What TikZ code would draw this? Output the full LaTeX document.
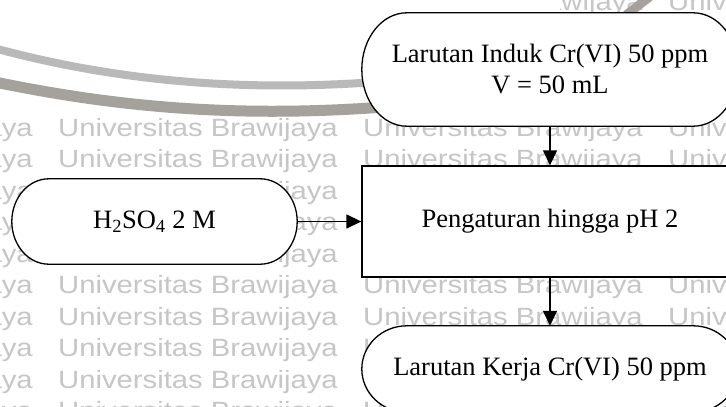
\documentclass[tikz,border=0pt]{standalone}
\usepackage{fontspec}
\setmainfont{Liberation Serif}
\newfontfamily\wmfont{Liberation Sans}
\usetikzlibrary{arrows.meta,calc}

\definecolor{wmgray}{RGB}{198,198,198}
\definecolor{swooshlight}{RGB}{185,185,185}
\definecolor{swooshdark}{RGB}{165,162,158}

\pgfdeclarelayer{mark}
\pgfdeclarelayer{boxes}
\pgfsetlayers{mark,boxes,main}

% Terminator outline (flat top and bottom, half-ellipse ends) around a node
% #1 = node name, #2 = horizontal radius of the end caps (pt)
\newcommand\terminal[2]{%
  \begin{pgfonlayer}{boxes}
    \path[outline] let \p1=(#1.north west), \p2=(#1.south east),
                       \n1={(\y1-\y2)/2} in
      (\x1+#2pt,\y1) -- (\x2-#2pt,\y1)
      arc[start angle=90, end angle=-90, x radius=#2pt, y radius=\n1]
      -- (\x1+#2pt,\y2)
      arc[start angle=270, end angle=90, x radius=#2pt, y radius=\n1]
      -- cycle;
  \end{pgfonlayer}}

\begin{document}
\begin{tikzpicture}[x=1pt,y=-1pt,
  flowtext/.style={font=\fontsize{26.5}{31}\selectfont, align=center, inner sep=0pt},
  termbox/.style={flowtext, draw=none},
  procbox/.style={flowtext, draw=black, line width=1.3pt, fill=white},
  outline/.style={draw=black, line width=1.3pt, fill=white},
  flow/.style={line width=1.3pt, -{Triangle[length=15pt,width=14pt]}},
  wmtext/.style={font=\wmfont\fontsize{25}{26}\selectfont, text=wmgray,
                 inner sep=0pt, anchor=base west},
]
\path[use as bounding box, clip] (0,0) rectangle (726,407);

% background: repeated university watermark and logo swoosh
\begin{pgfonlayer}{mark}
  \fill[white] (0,0) rectangle (726,407);
  \foreach \r in {10,41.5,...,425}
    \foreach \c in {-247,58,363,668}
      \node[wmtext] at (\c,\r) {\scalebox{1.17}[1]{Universitas Brawijaya}};
  \fill[white] (0,0) rectangle (560,116);
  \draw[swooshlight, line width=8pt] (-10,47) .. controls (110,80) and (250,96) .. (420,78);
  \draw[swooshdark, line width=11pt] (-10,81) .. controls (110,106) and (240,121) .. (420,104);
  \draw[swooshdark, line width=9pt] (626,15) -- (652,-5);
\end{pgfonlayer}

% flowchart
\node[termbox, minimum width=376pt, minimum height=113pt] (stock) at (550,69.5)
  {Larutan Induk Cr(VI) 50 ppm\\V = 50 mL};
\node[procbox, minimum width=376pt, minimum height=111pt] (adjust) at (550,221.5)
  {Pengaturan hingga pH 2};
\node[termbox, minimum width=285pt, minimum height=85pt] (acid) at (154.5,221.5)
  {H\textsubscript{2}SO\textsubscript{4} 2 M};
\node[termbox, minimum width=376pt, minimum height=86pt] (work) at (550,369)
  {Larutan Kerja Cr(VI) 50 ppm};

\terminal{stock}{45}
\terminal{acid}{37}
\terminal{work}{45}

\draw[flow] (stock.south) -- (adjust.north);
\draw[flow] (acid.east) -- (adjust.west);
\draw[flow] (adjust.south) -- (work.north);
\end{tikzpicture}
\end{document}
